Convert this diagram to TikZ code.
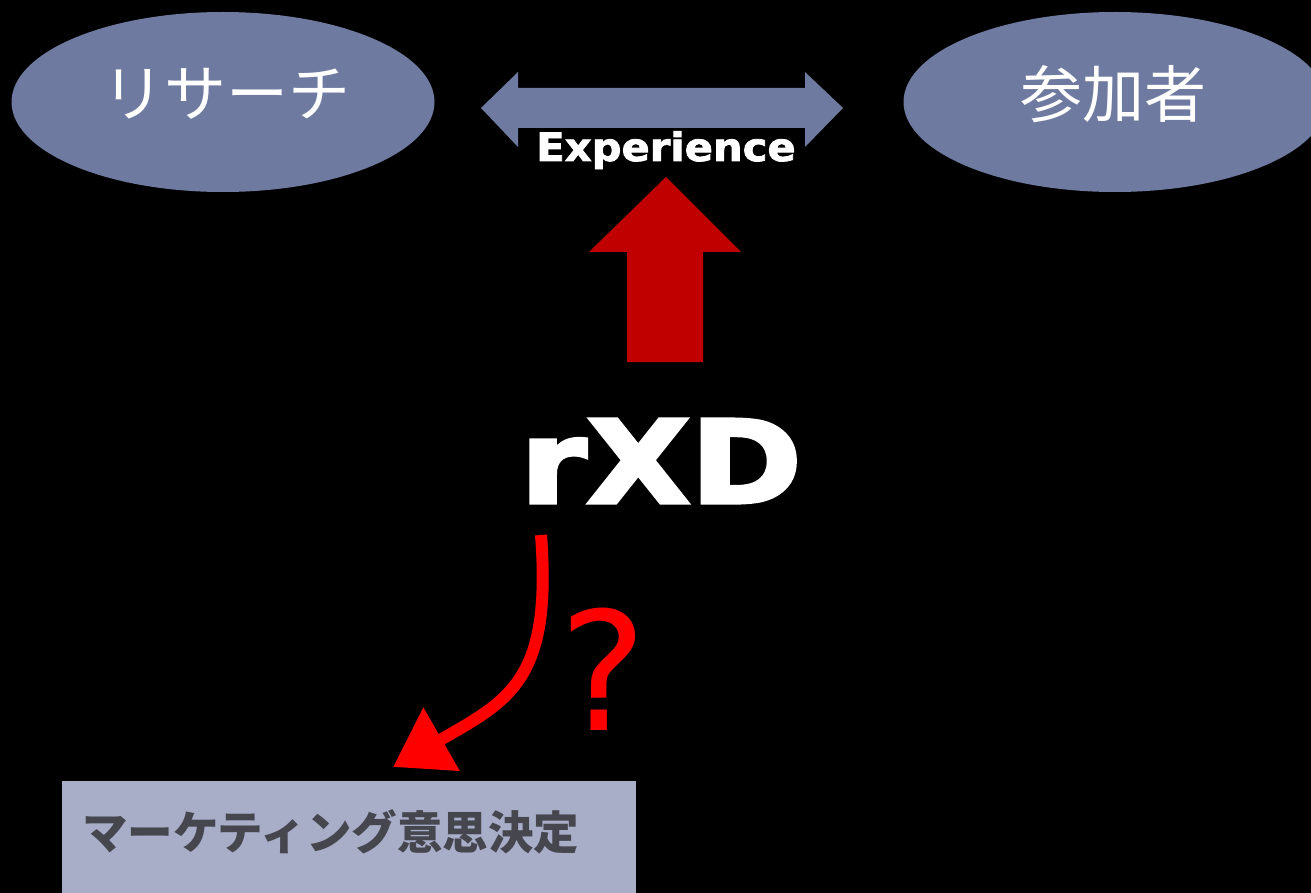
\documentclass[tikz,border=0pt]{standalone}
\usepackage{fontspec}
\setmainfont{DejaVu Sans}
\newfontfamily\cjk{Noto Sans CJK JP}
\newfontfamily\dvs{DejaVu Sans}
\newfontfamily\heavy[FakeBold=2]{DejaVu Sans Bold}
\newfontfamily\heavier[FakeBold=3]{DejaVu Sans Bold}
\usetikzlibrary{shapes.geometric,arrows.meta}
\definecolor{ellfill}{HTML}{6F7AA0}
\definecolor{boxfill}{HTML}{A8AEC8}
\definecolor{boxtext}{HTML}{46464F}
\definecolor{darkred}{HTML}{C00000}
\definecolor{brightred}{HTML}{FF0000}
\tikzset{
  ell/.style={ellipse, fill=ellfill, minimum width=423pt, minimum height=180pt, inner sep=0pt},
  elltext/.style={text=white, inner sep=0pt, font=\cjk\fontsize{62}{62}\selectfont},
  bigarrow/.style={fill=ellfill},
  redarrow/.style={fill=darkred},
}
\begin{document}
\begin{tikzpicture}[x=1pt,y=-1pt]
\fill[black] (0,0) rectangle (1311,893);
\useasboundingbox (0,0) rectangle (1311,893);

% ellipses
\node[ell] (research) at (223,102) {};
\node[elltext] (researchlbl) at (226,94) {リサーチ};
\node[ell] (participant) at (1115,102) {};
\node[elltext] (participantlbl) at (1113,94) {参加者};

% double arrow
\fill[bigarrow] (481,108) -- (518,72) -- (518,88) -- (805,88) -- (805,72) -- (843,108)
  -- (805,147) -- (805,128) -- (518,128) -- (518,147) -- cycle;
\node[text=white, inner sep=0pt, anchor=base, font=\heavy\fontsize{39}{39}\selectfont, xscale=1.07] (exp) at (666,161) {Experience};

% red up arrow
\fill[redarrow] (666,177) -- (741,252) -- (703,252) -- (703,362) -- (627,362) -- (627,252) -- (589,252) -- cycle;

% rXD
\node[text=white, inner sep=0pt, anchor=base, font=\heavier\fontsize{115}{115}\selectfont, xscale=1.17] (rxd) at (661,503) {rXD};

% curved arrow
\coordinate (cstart) at (541,535);
\node[inner sep=0pt, minimum size=0pt] (tip) at (393,767) {};
\draw[brightred, line width=12pt, -{Triangle[length=56pt,width=70pt]}]
  (cstart) .. controls (552,680) and (510,700) .. (tip.center);

% question mark
\node[text=brightred, inner sep=0pt, anchor=base, font=\dvs\fontsize{165}{165}\selectfont] (q) at (603,730) {?};

% bottom box
\fill[boxfill] (62,781) rectangle (636,900);
\node[anchor=west, inner sep=0pt, text=boxtext, font=\cjk\bfseries\fontsize{45.5}{45.5}\selectfont] (mkt) at (82,832) {マーケティング意思決定};
\end{tikzpicture}
\end{document}
